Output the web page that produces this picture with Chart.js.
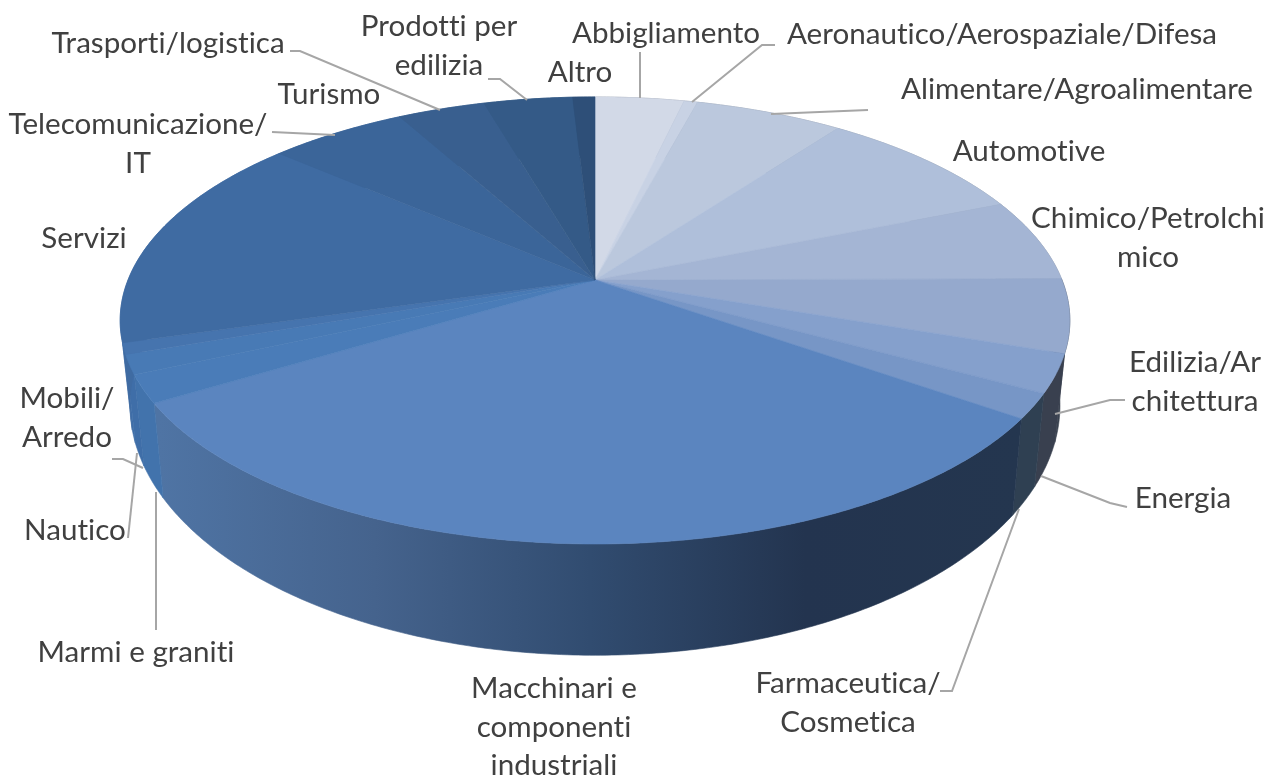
<!DOCTYPE html>
<html>
<head>
<meta charset="utf-8">
<script src="https://cdn.jsdelivr.net/npm/chart.js@4"></script>
<style>
  html, body { margin: 0; padding: 0; background: #fff; }
  canvas { display: block; }
</style>
</head>
<body>
<canvas id="pieChart" width="1268" height="777"></canvas>
<script>
// share in percent, clockwise from the top
const categories = [
  "Abbigliamento", "Aeronautico/Aerospaziale/Difesa", "Alimentare/Agroalimentare", "Automotive",
  "Chimico/Petrolchi\nmico", "Edilizia/Ar\nchitettura", "Energia", "Farmaceutica/\nCosmetica",
  "Macchinari e\ncomponenti\nindustriali", "Marmi e graniti", "Mobili/\nArredo", "Nautico",
  "Servizi", "Telecomunicazione/\nIT", "Turismo", "Trasporti/logistica", "Prodotti per\nedilizia", "Altro"
];
const shares = [3.6, 0.55, 6.0, 8.75, 6.0, 5.3, 2.75, 1.8, 31.6, 2.0, 1.4, 0.8, 15.8, 5.6, 0, 3.55, 3.6, 0.9];

const topColors = [
  "#D2D9E7", "#C8D2E4", "#BBC8DD", "#AFBFDA", "#A4B5D4", "#95A9CD", "#85A0CC", "#7796C6",
  "#5B85BF", "#4A7CB8", "#487AB5", "#4674AE", "#3F6BA2", "#3B6599", "#3B6599", "#395F8F", "#345A87", "#2E4F78"
];
const wallColors = [
  "#8c93a0", "#8c93a0", "#8c93a0", "#8c93a0", "#8c93a0", "#3A4350", "#39404F", "#2F4052",
  "#23344F", "#4273AC", "#3F6EA8", "#3F6EA8", "#3F6BA2", "#3B6599", "#3B6599", "#395F8F", "#345A87", "#2E4F78"
];

// centre of each text block, in page pixels, same order as categories
const labelSpots = [
  [666, 33], [1002, 34], [1077, 89], [1029, 151], [1148, 238], [1195, 382], [1183, 498], [848, 703],
  [554, 727], [136, 652], [67, 418], [75, 530], [84, 238], [138, 144], [329, 94], [168, 43], [439, 46], [580, 72]
];
const leaders = [
  [[640, 52], [640, 98]],
  [[775, 45], [762, 45], [692, 102]],
  [[868, 110], [771, 114]],
  [[1125, 400], [1110, 400], [1055, 414]],
  [[1127, 507], [1110, 503], [1041, 476]],
  [[940, 691], [952, 691], [1019, 509]],
  [[156, 630], [156, 492]],
  [[128, 538], [137, 453]],
  [[112, 459], [123, 459], [143, 468]],
  [[272, 132], [335, 135]],
  [[290, 51], [300, 51], [440, 110]],
  [[488, 79], [500, 79], [527, 100]]
];

// the pie lies flat, so the rim is a perspective view of a circle
const K = 0.181;
const topDisc = { y: 280, a: 467, b: 216.2 };
const bottomDisc = { y: 360, a: 457.3, b: 241.8 };

function project(disc, angle) {
  const u = Math.cos(angle);
  const v = Math.sin(angle);
  const w = 1 - K * v;
  return [595 + disc.a * u / w, disc.y + disc.b * v / w];
}

function rim(disc, start, end) {
  const pts = [];
  const steps = Math.max(1, Math.ceil((end - start) / 0.01));
  for (let i = 0; i <= steps; i++) {
    pts.push(project(disc, start + (end - start) * i / steps));
  }
  return pts;
}

function tracePath(ctx, pts) {
  ctx.beginPath();
  pts.forEach((p, i) => i ? ctx.lineTo(p[0], p[1]) : ctx.moveTo(p[0], p[1]));
  ctx.closePath();
}

const perspectivePie = {
  id: "perspectivePie",
  beforeDatasetDraw(chart, args) {
    const ctx = chart.ctx;
    const arcs = args.meta.data;
    ctx.save();

    // side wall first, the top face covers whatever is behind it
    arcs.forEach((arc, i) => {
      if (arc.endAngle <= arc.startAngle) return;
      const top = rim(topDisc, arc.startAngle, arc.endAngle);
      const bottom = rim(bottomDisc, arc.startAngle, arc.endAngle).reverse();
      let fill = wallColors[i];
      if (categories[i].startsWith("Macchinari")) {
        fill = ctx.createLinearGradient(160, 0, 1020, 0);
        fill.addColorStop(0, "#4F74A4");
        fill.addColorStop(0.25, "#45638D");
        fill.addColorStop(0.5, "#314C70");
        fill.addColorStop(0.75, "#23344F");
        fill.addColorStop(1, "#24364F");
      }
      tracePath(ctx, top.concat(bottom));
      ctx.fillStyle = fill;
      ctx.strokeStyle = fill;
      ctx.lineWidth = 0.6;
      ctx.fill();
      ctx.stroke();
    });

    arcs.forEach((arc, i) => {
      if (arc.endAngle <= arc.startAngle) return;
      const pts = rim(topDisc, arc.startAngle, arc.endAngle);
      pts.push([595, topDisc.y]);
      tracePath(ctx, pts);
      ctx.fillStyle = topColors[i];
      ctx.strokeStyle = topColors[i];
      ctx.lineWidth = 0.6;
      ctx.fill();
      ctx.stroke();
    });

    ctx.restore();
    return false;
  },
  afterDraw(chart) {
    const ctx = chart.ctx;
    ctx.save();
    ctx.strokeStyle = "#A6A6A6";
    ctx.lineWidth = 2;
    leaders.forEach((line) => {
      ctx.beginPath();
      line.forEach((p, i) => i ? ctx.lineTo(p[0], p[1]) : ctx.moveTo(p[0], p[1]));
      ctx.stroke();
    });

    ctx.fillStyle = "#404040";
    ctx.font = "29.6px Lato";
    ctx.letterSpacing = "0.01px"; // keeps the tt and ti apart
    ctx.textAlign = "center";
    ctx.textBaseline = "middle";
    categories.forEach((name, i) => {
      const lines = name.split("\n");
      lines.forEach((line, j) => {
        const y = labelSpots[i][1] + (j - (lines.length - 1) / 2) * 38.5;
        ctx.fillText(line, labelSpots[i][0], y);
      });
    });
    ctx.restore();
  }
};

const ctx = document.getElementById("pieChart");
const myChart = new Chart(ctx, {
  type: "pie",
  data: {
    labels: categories,
    datasets: [
      {
        data: shares,
        backgroundColor: topColors,
        borderWidth: 0,
      },
    ],
  },
  options: {
    responsive: false,
    animation: false,
    plugins: {
      legend: { display: false },
      tooltip: { enabled: false },
    },
  },
  plugins: [perspectivePie],
});
</script>
</body>
</html>
